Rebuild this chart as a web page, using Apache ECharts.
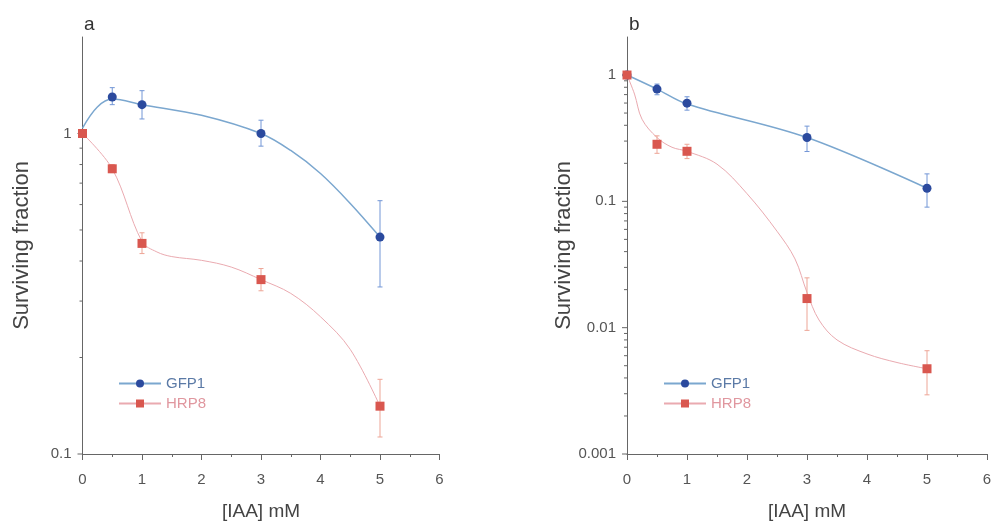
<!DOCTYPE html>
<html>
<head>
<meta charset="utf-8">
<script src="https://cdn.jsdelivr.net/npm/echarts@6/dist/echarts.min.js"></script>
<style>
  html, body { margin: 0; padding: 0; background: #fff; }
  #chart { width: 991px; height: 522px; }
</style>
</head>
<body>
<div id="chart"></div>
<script>
// Doses of iodoacetic acid (mM)
const doses = [0, 0.5, 1, 3, 5];

// Panel a: surviving fraction, mean and error range
const gfpA = [1.0, 1.30, 1.23, 1.0, 0.475];
const gfpA_low = [1.0, 1.23, 1.11, 0.913, 0.332];
const gfpA_high = [1.0, 1.39, 1.36, 1.10, 0.617];
const hrpA = [1.0, 0.776, 0.454, 0.350, 0.141];
const hrpA_low = [1.0, 0.755, 0.422, 0.323, 0.113];
const hrpA_high = [1.0, 0.80, 0.490, 0.379, 0.171];

// Panel b: surviving fraction, mean and error range
const gfpB = [1.0, 0.774, 0.599, 0.320, 0.127];
const gfpB_low = [1.0, 0.698, 0.527, 0.248, 0.090];
const gfpB_high = [1.0, 0.848, 0.673, 0.394, 0.165];
const hrpB = [1.0, 0.283, 0.249, 0.0170, 0.00473];
const hrpB_low = [1.0, 0.240, 0.218, 0.00952, 0.00294];
const hrpB_high = [1.0, 0.330, 0.283, 0.0248, 0.00657];

// Fitted curves through the data (dose, fraction)
const fitGfpA = [[0, 1.04], [0.25, 1.21], [0.5, 1.28], [1, 1.23], [2, 1.14], [3, 1.0], [3.5, 0.885], [4, 0.75], [4.5, 0.605], [5, 0.475]];
const fitHrpA = [[0, 1.0], [0.5, 0.776], [1, 0.46], [1.25, 0.427], [1.5, 0.413], [2, 0.402], [2.5, 0.383], [3, 0.35], [3.5, 0.317], [4, 0.268], [4.5, 0.212], [5, 0.141]];
const fitGfpB = [[0, 1.0], [0.5, 0.774], [1, 0.59], [3, 0.32], [5, 0.127]];
const fitHrpB = [[0, 1.0], [0.125, 0.707], [0.25, 0.447], [0.5, 0.32], [0.75, 0.268], [1, 0.249], [1.5, 0.197], [2, 0.115], [2.5, 0.058], [2.8, 0.035], [3, 0.019], [3.2, 0.0115], [3.5, 0.0080], [4, 0.0062], [4.5, 0.0053], [5, 0.00473]];

// Log-axis tick positions (decades get labels and longer ticks)
const yTicksA = [0.1, 0.2, 0.3, 0.4, 0.5, 0.6, 0.7, 0.8, 0.9, 1];
const yTicksB = [0.001, 0.002, 0.003, 0.004, 0.005, 0.006, 0.007, 0.008, 0.009,
                 0.01, 0.02, 0.03, 0.04, 0.05, 0.06, 0.07, 0.08, 0.09,
                 0.1, 0.2, 0.3, 0.4, 0.5, 0.6, 0.7, 0.8, 0.9, 1];

const seriesNames = ['GFP1', 'HRP8'];
const panelLetters = ['a', 'b'];

const BLUE_MARK = '#2b4a9e';
const BLUE_LINE = '#7ba7cf';
const BLUE_ERR = '#7296d6';
const RED_MARK = '#d9574f';
const RED_LINE = '#eaaab0';
const RED_ERR = '#eda596';
const AXIS = '#666';
const TEXT = '#555';
const FONT = '"Liberation Sans", Arial, Helvetica, sans-serif';

function isDecade(v) {
  const l = Math.log10(v);
  return Math.abs(l - Math.round(l)) < 1e-6;
}

function zip(xs, ys) { return xs.map((x, i) => [x, ys[i]]); }
function zip3(xs, lo, hi) { return xs.map((x, i) => [x, lo[i], hi[i]]); }

function errorBarSeries(gi, data, color) {
  return {
    type: 'custom',
    xAxisIndex: gi, yAxisIndex: gi,
    encode: { x: 0, y: [1, 2] },
    data: data,
    z: 3,
    renderItem: function (params, api) {
      const lo = api.coord([api.value(0), api.value(1)]);
      const hi = api.coord([api.value(0), api.value(2)]);
      const w = 2.5;
      const st = { stroke: color, lineWidth: 1 };
      return {
        type: 'group',
        children: [
          { type: 'line', shape: { x1: lo[0], y1: lo[1], x2: hi[0], y2: hi[1] }, style: st },
          { type: 'line', shape: { x1: lo[0] - w, y1: lo[1], x2: lo[0] + w, y2: lo[1] }, style: st },
          { type: 'line', shape: { x1: hi[0] - w, y1: hi[1], x2: hi[0] + w, y2: hi[1] }, style: st }
        ]
      };
    }
  };
}

function yTickSeries(gi, ticks) {
  return {
    type: 'custom',
    xAxisIndex: gi, yAxisIndex: gi,
    data: ticks.map(v => [0, v]),
    silent: true,
    z: 1,
    renderItem: function (params, api) {
      const v = api.value(1);
      const p = api.coord([0, v]);
      const len = isDecade(v) ? 5 : 3;
      return { type: 'line', shape: { x1: p[0] - len, y1: p[1], x2: p[0], y2: p[1] },
               style: { stroke: AXIS, lineWidth: 1 } };
    }
  };
}

function fitSeries(gi, name, data, lineColor, markColor, symbol, width) {
  return {
    name: name,
    type: 'line',
    xAxisIndex: gi, yAxisIndex: gi,
    data: data,
    smooth: 0.35,
    showSymbol: false,
    symbol: symbol,
    symbolSize: 7,
    lineStyle: { color: lineColor, width: width },
    itemStyle: { color: markColor },
    z: 2
  };
}

function markerSeries(gi, data, color, symbol, size) {
  return {
    type: 'scatter',
    xAxisIndex: gi, yAxisIndex: gi,
    data: data,
    symbol: symbol,
    symbolSize: size,
    itemStyle: { color: color, opacity: 1 },
    z: 4
  };
}

function xAxisFor(gi) {
  return {
    gridIndex: gi,
    type: 'value',
    min: 0, max: 6, interval: 1,
    name: '[IAA] mM',
    nameLocation: 'middle',
    nameGap: 48,
    nameTextStyle: { fontSize: 19, color: '#444', fontFamily: FONT },
    axisLine: { show: true, onZero: false, lineStyle: { color: AXIS, width: 1 } },
    axisTick: { show: true, inside: false, length: 6, lineStyle: { color: AXIS } },
    minorTick: { show: true, splitNumber: 2, length: 3, lineStyle: { color: AXIS } },
    axisLabel: { margin: 18, fontSize: 15, color: TEXT, fontFamily: FONT },
    splitLine: { show: false }
  };
}

function yAxisFor(gi, min, max, gap) {
  return {
    gridIndex: gi,
    type: 'log',
    logBase: 10,
    min: min, max: max,
    name: 'Surviving fraction',
    nameLocation: 'middle',
    nameGap: gap,
    nameTextStyle: { fontSize: 22, color: '#444', fontFamily: FONT },
    axisLine: { show: true, onZero: false, lineStyle: { color: AXIS, width: 1 } },
    axisTick: { show: false },
    axisLabel: {
      margin: 11, fontSize: 15, color: TEXT, fontFamily: FONT,
      formatter: function (v) { return isDecade(v) ? String(Number(v.toPrecision(6))) : ''; }
    },
    splitLine: { show: false }
  };
}

function legendFor(left) {
  return {
    orient: 'vertical',
    left: left, top: 371,
    itemWidth: 42, itemHeight: 10, itemGap: 5,
    selectedMode: false,
    textStyle: { fontSize: 15, fontFamily: FONT },
    data: [
      { name: seriesNames[0], textStyle: { color: '#5b7aa6' } },
      { name: seriesNames[1], textStyle: { color: '#e0979f' } }
    ]
  };
}

const chart = echarts.init(document.getElementById('chart'), null, { renderer: 'canvas' });
chart.setOption({
  animation: false,
  backgroundColor: '#fff',
  title: [
    { text: panelLetters[0], left: 79, top: 10, textStyle: { fontSize: 19, fontWeight: 'normal', color: '#333', fontFamily: FONT } },
    { text: panelLetters[1], left: 624, top: 10, textStyle: { fontSize: 19, fontWeight: 'normal', color: '#333', fontFamily: FONT } }
  ],
  legend: [legendFor(113), legendFor(658)],
  grid: [
    { left: 82.5, top: 37, width: 357, height: 417, outerBoundsMode: 'none', containLabel: false },
    { left: 627, top: 37, width: 360, height: 417, outerBoundsMode: 'none', containLabel: false }
  ],
  xAxis: [xAxisFor(0), xAxisFor(1)],
  yAxis: [yAxisFor(0, 0.1, 2, 50), yAxisFor(1, 0.001, 2, 51)],
  series: [
    yTickSeries(0, yTicksA),
    yTickSeries(1, yTicksB),
    fitSeries(0, seriesNames[0], fitGfpA, BLUE_LINE, BLUE_MARK, 'circle', 1.5),
    fitSeries(0, seriesNames[1], fitHrpA, RED_LINE, RED_MARK, 'rect', 1),
    fitSeries(1, seriesNames[0], fitGfpB, BLUE_LINE, BLUE_MARK, 'circle', 1.5),
    fitSeries(1, seriesNames[1], fitHrpB, RED_LINE, RED_MARK, 'rect', 1),
    errorBarSeries(0, zip3(doses, gfpA_low, gfpA_high), BLUE_ERR),
    errorBarSeries(0, zip3(doses, hrpA_low, hrpA_high), RED_ERR),
    errorBarSeries(1, zip3(doses, gfpB_low, gfpB_high), BLUE_ERR),
    errorBarSeries(1, zip3(doses, hrpB_low, hrpB_high), RED_ERR),
    markerSeries(0, zip(doses, gfpA), BLUE_MARK, 'circle', 9),
    markerSeries(0, zip(doses, hrpA), RED_MARK, 'rect', 9),
    markerSeries(1, zip(doses, gfpB), BLUE_MARK, 'circle', 9),
    markerSeries(1, zip(doses, hrpB), RED_MARK, 'rect', 9)
  ]
});
</script>
</body>
</html>
